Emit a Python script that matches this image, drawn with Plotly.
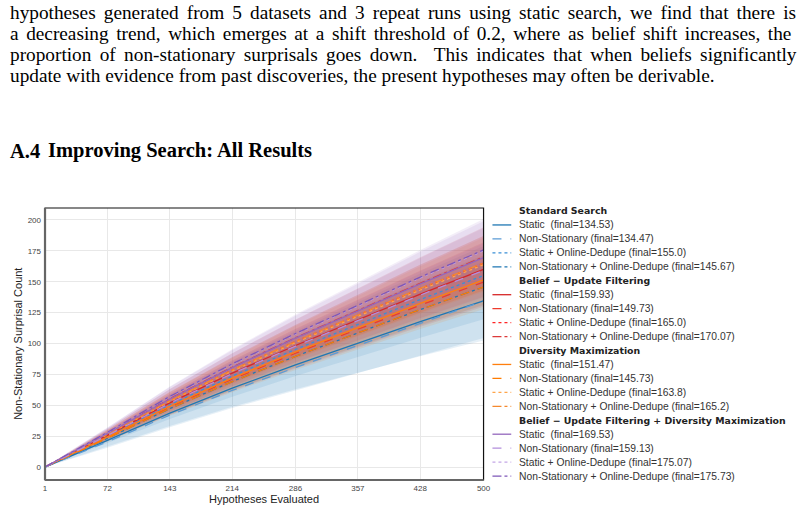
import numpy as np
import plotly.graph_objects as go

W, H = 805, 513

# ---------------- data ----------------
hyp_x = [1, 72, 143, 214, 286, 357, 428, 500]
x_ticks = [1, 72, 143, 214, 286, 357, 428, 500]
y_ticks = [0, 25, 50, 75, 100, 125, 150, 175, 200]

group_titles = ["Standard Search", "Belief \u2212 Update Filtering",
                "Diversity Maximization",
                "Belief \u2212 Update Filtering + Diversity Maximization"]
variant_labels = ["Static ", "Non-Stationary", "Static + Online-Dedupe",
                  "Non-Stationary + Online-Dedupe"]

# Standard Search
ss_static = [0, 21.5, 43.7, 63.9, 82.7, 100.2, 117.7, 134.53]
ss_nonstat = [0, 20.5, 42.0, 62.0, 80.5, 98.5, 116.5, 134.47]
ss_static_dd = [0, 24.8, 50.4, 73.6, 95.3, 115.5, 135.6, 155.0]
ss_nonstat_dd = [0, 23.3, 47.3, 69.2, 89.6, 108.5, 127.5, 145.67]
# Belief-Update Filtering
buf_static = [0, 25.6, 52.0, 76.0, 98.4, 119.1, 139.9, 159.93]
buf_nonstat = [0, 24.0, 48.7, 71.1, 92.1, 111.5, 131.0, 149.73]
buf_static_dd = [0, 26.4, 53.6, 78.4, 101.5, 122.9, 144.4, 165.0]
buf_nonstat_dd = [0, 27.2, 55.3, 80.8, 104.6, 126.7, 148.8, 170.07]
# Diversity Maximization
dm_static = [0, 24.2, 49.2, 71.9, 93.2, 112.8, 132.5, 151.47]
dm_nonstat = [0, 23.3, 47.4, 69.2, 89.6, 108.6, 127.5, 145.73]
dm_static_dd = [0, 26.2, 53.2, 77.8, 100.7, 122.0, 143.3, 163.8]
dm_nonstat_dd = [0, 26.4, 53.7, 78.5, 101.6, 123.1, 144.6, 165.2]
# Belief-Update Filtering + Diversity Maximization
bd_static = [0, 27.1, 55.1, 80.5, 104.3, 126.3, 148.3, 169.53]
bd_nonstat = [0, 25.5, 51.7, 75.6, 97.9, 118.6, 139.2, 159.13]
bd_static_dd = [0, 28.0, 56.9, 83.2, 107.7, 130.4, 153.2, 175.07]
bd_nonstat_dd = [0, 28.1, 57.1, 83.5, 108.1, 130.9, 153.8, 175.73]

# standard deviations across runs
ss_static_sd = [0, 5.1, 10.4, 15.2, 19.7, 23.8, 28.0, 32.0]
ss_nonstat_sd = [0, 4.8, 9.8, 14.3, 18.5, 22.4, 26.3, 30.0]
ss_static_dd_sd = [0, 3.8, 7.8, 11.4, 14.8, 17.9, 21.0, 24.0]
ss_nonstat_dd_sd = [0, 4.2, 8.5, 12.4, 16.0, 19.4, 22.8, 26.0]
buf_static_sd = [0, 3.5, 7.2, 10.5, 13.5, 16.4, 19.3, 22.0]
buf_nonstat_sd = [0, 3.2, 6.5, 9.5, 12.3, 14.9, 17.5, 20.0]
buf_static_dd_sd = [0, 3.5, 7.2, 10.5, 13.5, 16.4, 19.3, 22.0]
buf_nonstat_dd_sd = [0, 3.8, 7.8, 11.4, 14.8, 17.9, 21.0, 24.0]
dm_static_sd = [0, 3.2, 6.5, 9.5, 12.3, 14.9, 17.5, 20.0]
dm_nonstat_sd = [0, 2.9, 5.9, 8.6, 11.1, 13.4, 15.8, 18.0]
dm_static_dd_sd = [0, 3.5, 7.2, 10.5, 13.5, 16.4, 19.3, 22.0]
dm_nonstat_dd_sd = [0, 3.5, 7.2, 10.5, 13.5, 16.4, 19.3, 22.0]
bd_static_sd = [0, 3.8, 7.8, 11.4, 14.8, 17.9, 21.0, 24.0]
bd_nonstat_sd = [0, 3.5, 7.2, 10.5, 13.5, 16.4, 19.3, 22.0]
bd_static_dd_sd = [0, 3.8, 7.8, 11.4, 14.8, 17.9, 21.0, 24.0]
bd_nonstat_dd_sd = [0, 4.0, 8.1, 11.9, 15.4, 18.6, 21.9, 25.0]

paragraph = [
    "hypotheses generated from 5 datasets and 3 repeat runs using static search, we find that there is",
    "a decreasing trend, which emerges at a shift threshold of 0.2, where as belief shift increases, the",
    "proportion of non-stationary surprisals goes down.  This indicates that when beliefs significantly",
    "update with evidence from past discoveries, the present hypotheses may often be derivable.",
]
word_gap = [3.25, 2.75, 3.5, 0]

# ---------------- styles ----------------
group_means = [
    [ss_static, ss_nonstat, ss_static_dd, ss_nonstat_dd],
    [buf_static, buf_nonstat, buf_static_dd, buf_nonstat_dd],
    [dm_static, dm_nonstat, dm_static_dd, dm_nonstat_dd],
    [bd_static, bd_nonstat, bd_static_dd, bd_nonstat_dd],
]
group_sds = [
    [ss_static_sd, ss_nonstat_sd, ss_static_dd_sd, ss_nonstat_dd_sd],
    [buf_static_sd, buf_nonstat_sd, buf_static_dd_sd, buf_nonstat_dd_sd],
    [dm_static_sd, dm_nonstat_sd, dm_static_dd_sd, dm_nonstat_dd_sd],
    [bd_static_sd, bd_nonstat_sd, bd_static_dd_sd, bd_nonstat_dd_sd],
]
group_colors = [
    ["#1f77b4", "#5b9bd5", "#3a8fd6", "#1f77b4"],
    ["#d62728", "#ee3b2c", "#ff2424", "#dc3a3a"],
    ["#ff7f0e", "#ff7b00", "#ffa54a", "#f5892e"],
    ["#9467bd", "#b28ddb", "#c3a6e6", "#7e57b8"],
]
band_rgb = ["31,119,180", "214,39,40", "255,127,14", "148,103,189"]
band_alpha = [0.11, 0.12, 0.12, 0.11]
dashes = ["solid", "dash", "dot", "dashdot"]

x0p, x1p = 43.5, 487.0
y0p, y1p = 208.0, 480.0


def px(v):
    return v / W


def py(v):
    return 1 - v / H


fig = go.Figure()

# bands
for g in range(4):
    for v in range(4):
        m = np.array(group_means[g][v], dtype=float)
        s = np.array(group_sds[g][v], dtype=float)
        fig.add_trace(go.Scatter(x=hyp_x, y=m + s, mode="lines",
                                 line=dict(width=0), hoverinfo="skip",
                                 showlegend=False))
        fig.add_trace(go.Scatter(x=hyp_x, y=m - s, mode="lines",
                                 line=dict(width=0), fill="tonexty",
                                 fillcolor="rgba(%s,%s)" % (band_rgb[g], band_alpha[g]),
                                 hoverinfo="skip", showlegend=False))

# mean lines
for g in range(4):
    for v in range(4):
        fig.add_trace(go.Scatter(x=hyp_x, y=group_means[g][v], mode="lines",
                                 line=dict(color=group_colors[g][v], width=1.3,
                                           dash=dashes[v]),
                                 showlegend=False))

annotations = []
shapes = []

# paragraph text
base_y = [12.5, 33.5, 54.5, 75.5]
for i, line in enumerate(paragraph):
    txt = line
    if word_gap[i] > 0:
        txt = '<span style="word-spacing:%spx">%s</span>' % (word_gap[i], line)
    annotations.append(dict(
        x=px(6), y=py(base_y[i]), xref="paper", yref="paper",
        xanchor="left", yanchor="middle", showarrow=False, text=txt,
        font=dict(family="Liberation Serif", size=19.3, color="#000")))
annotations.append(dict(
    x=px(6), y=py(151), xref="paper", yref="paper", xanchor="left",
    yanchor="middle", showarrow=False, text="<b>A.4</b>",
    font=dict(family="Liberation Serif", size=20.5, color="#000")))
annotations.append(dict(
    x=px(44), y=py(151), xref="paper", yref="paper", xanchor="left",
    yanchor="middle", showarrow=False,
    text="<b>Improving Search: All Results</b>",
    font=dict(family="Liberation Serif", size=20.5, color="#000")))

# axis titles
annotations.append(dict(
    x=px((x0p + x1p) / 2), y=py(499), xref="paper", yref="paper",
    xanchor="center", yanchor="middle", showarrow=False,
    text="Hypotheses Evaluated",
    font=dict(family="Liberation Sans", size=11, color="#222")))
annotations.append(dict(
    x=px(16), y=py((y0p + y1p) / 2), xref="paper", yref="paper",
    xanchor="center", yanchor="middle", showarrow=False, textangle=-90,
    text="Non-Stationary Surprisal Count",
    font=dict(family="Liberation Sans", size=11, color="#222")))

# legend (manual, compact)
row_h = 13.95
row = 0
top = 211.0
for g in range(4):
    yy = top + row * row_h
    annotations.append(dict(
        x=px(521), y=py(yy), xref="paper", yref="paper", xanchor="left",
        yanchor="middle", showarrow=False, text="<b>%s</b>" % group_titles[g],
        font=dict(family="DejaVu Sans", size=9.4, color="#222")))
    row += 1
    for v in range(4):
        yy = top + row * row_h
        final = group_means[g][v][-1]
        annotations.append(dict(
            x=px(521), y=py(yy), xref="paper", yref="paper", xanchor="left",
            yanchor="middle", showarrow=False,
            text="%s (final=%s)" % (variant_labels[v], final),
            font=dict(family="Liberation Sans", size=10.3, color="#333")))
        shapes.append(dict(
            type="line", xref="paper", yref="paper",
            x0=px(496), x1=px(515), y0=py(yy), y1=py(yy),
            line=dict(color=group_colors[g][v], width=1.3, dash=dashes[v])))
        row += 1

# frame
shapes.append(dict(type="rect", xref="paper", yref="paper",
                   x0=px(x0p), x1=px(x1p), y0=py(y1p), y1=py(y0p),
                   line=dict(color="#111", width=1.2), layer="above"))
shapes.append(dict(type="line", xref="paper", yref="paper",
                   x0=px(x0p), x1=px(x0p), y0=py(y1p), y1=py(y0p),
                   line=dict(color="#666", width=2.2), layer="above"))
shapes.append(dict(type="line", xref="paper", yref="paper",
                   x0=px(x0p), x1=px(x1p), y0=py(y1p), y1=py(y1p),
                   line=dict(color="#666", width=2.2), layer="above"))

fig.update_layout(
    width=W, height=H, margin=dict(l=0, r=0, t=0, b=0),
    paper_bgcolor="white", plot_bgcolor="white", showlegend=False,
    annotations=annotations, shapes=shapes,
    xaxis=dict(domain=[px(x0p), px(x1p)], range=[1, 500],
               tickvals=x_ticks, ticktext=[str(t) for t in x_ticks],
               showgrid=True, gridcolor="#e8e8e8", gridwidth=1.3,
               zeroline=False, showline=False, ticks="",
               ticklabelstandoff=2,
               tickfont=dict(family="Liberation Sans", size=8, color="#444")),
    yaxis=dict(domain=[py(y1p), py(y0p)], range=[-10.5, 209.7],
               tickvals=y_ticks, showgrid=True, gridcolor="#e8e8e8",
               gridwidth=1.3, zeroline=False, showline=False, ticks="",
               ticklabelstandoff=3,
               tickfont=dict(family="Liberation Sans", size=8, color="#444")),
)

fig.write_html("out.html")
